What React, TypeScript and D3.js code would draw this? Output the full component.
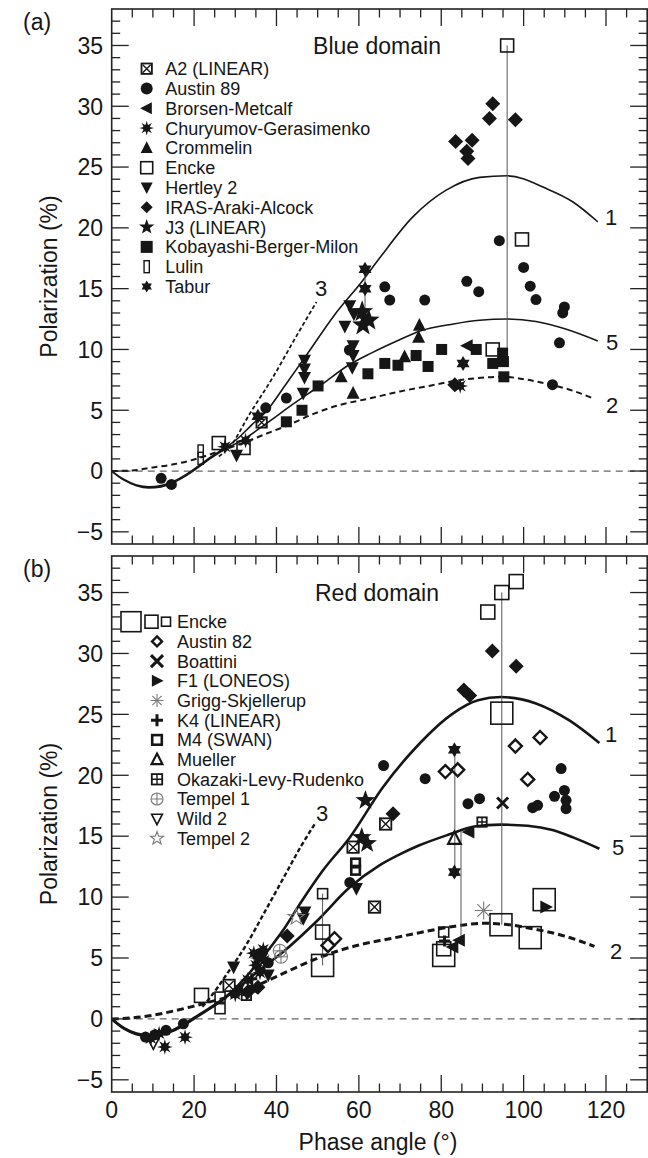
import React from 'react';
import * as d3 from 'd3';

// ---------- Blue domain observations (phase angle °, polarization %) ----------
const blueA2 = [[36.4, 4.0]];
const blueAustin89 = [[12, -0.6], [14.5, -1.1], [37.4, 5.2], [42.4, 6.0], [57.7, 9.95], [66.3, 15.15], [67.5, 14.06], [76, 14.06], [86.2, 15.6], [89.1, 14.75], [94.1, 18.95], [100, 16.75], [101.6, 15.2], [103, 14.1], [109.9, 13.5], [109.5, 13.0], [108.7, 10.55], [107, 7.1]];
const blueBrorsen = [[86.3, 10.3]];
const blueChuryumov = [[27.5, 2.0], [32.5, 2.5], [84.6, 7.0]];
const blueCrommelin = [[55.7, 7.75], [58.6, 6.4], [71.1, 9.4], [74.5, 11.0], [74.7, 12.0]];
const blueEncke = [[26, 2.3], [32, 1.9], [92.5, 10.0], [96, 35], [99.6, 19.05]];
const blueHertley = [[30.3, 1.3], [46.8, 9.1], [46.8, 8.4], [46.8, 7.7], [46.5, 6.4], [57.8, 13.6], [58.8, 12.9], [56.6, 11.9], [58.6, 10.3], [58.6, 9.5], [58.4, 8.5]];
const blueIras = [[92.5, 30.2], [91.7, 29.0], [98, 28.9], [83.5, 27.1], [87.5, 27.2], [86.2, 26.3], [86.5, 25.7], [83.3, 7.1]];
const blueJ3 = [[60.8, 13.1], [62.4, 12.4], [61.0, 12.0]];
const blueKobayashi = [[42.4, 4.05], [46.2, 5.0], [50.1, 7.0], [62.2, 8.0], [66.3, 8.85], [69.5, 8.7], [73.9, 9.5], [76.8, 8.6], [80.1, 10.0], [88.5, 10.0], [92.5, 8.85], [94.9, 9.7], [95.1, 9.0], [95.2, 7.75]];
const blueLulin = [[21.6, 1.65], [21.6, 1.05]];
const blueTabur = [[35.5, 4.5], [61.5, 16.6], [61.5, 15.0], [85.3, 8.85]];
const blueRanges = [[96, 9.8, 35], [61.5, 12.3, 16.6]];

// ---------- Red domain observations ----------
const redEnckeL = [[94.7, 25.1], [51.2, 4.39], [80.6, 5.21], [94.5, 7.73], [101.6, 6.67], [105, 9.79]];
const redEnckeM = [[91.3, 33.4], [94.7, 35.0], [98.2, 35.9], [51.2, 7.13], [21.8, 1.93], [80.6, 5.76]];
const redEnckeS = [[51.2, 10.28], [26.3, 1.79], [26.3, 0.84], [80.6, 7.13]];
const redAustin82 = [[98, 22.4], [104, 23.1], [101, 19.66], [81, 20.3], [84, 20.45], [54.1, 6.58], [52.5, 6.03]];
const redAustin89 = [[66, 20.8], [76.1, 19.72], [86.5, 17.67], [89.3, 18.08], [109.1, 20.55], [102.2, 17.34], [103.4, 17.53], [107.5, 18.27], [109.9, 18.76], [110.3, 17.94], [110.3, 17.26], [57.8, 11.2], [36.5, 5.4], [38, 4.6], [17.4, -0.4], [13.2, -0.94], [8.2, -1.49], [10.5, -1.3]];
const redIras = [[92.4, 30.2], [98.2, 28.95], [85.5, 27.0], [86.9, 26.55], [68.3, 16.85], [42.6, 6.8], [33, 2.2], [35.5, 2.6]];
const redBoattini = [[94.9, 17.72]];
const redF1 = [[105.4, 9.18]];
const redGrigg = [[90.3, 8.9]];
const redK4 = [[80.8, 6.4], [36, 4.1], [34, 3.3]];
const redM4 = [[59.2, 12.8], [59.2, 12.2]];
const redMueller = [[83.2, 14.8]];
const redOkazaki = [[89.9, 16.16], [32.7, 1.93]];
const redTempel1 = [[40.8, 5.6], [41.1, 5.1]];
const redWild2 = [[10.1, -2.0]];
const redTempel2 = [[44.8, 8.36]];
const redTabur = [[83.2, 22.1], [83.2, 12.05]];
const redJ3 = [[61.6, 17.94], [60.7, 14.9], [62, 14.4]];
const redA2 = [[66.5, 16.0], [58.6, 14.1], [63.8, 9.18], [28.5, 2.75]];
const redHertley = [[59.4, 10.7], [46.9, 8.77], [46.5, 8.23], [29.6, 4.25], [38, 3.6]];
const redBrorsen = [[86.7, 15.34], [84.4, 6.45], [82.8, 5.9]];
const redChuryumov = [[34.5, 5.4], [35.5, 5.0], [36.8, 5.7], [35, 4.4], [37, 4.8], [36, 3.8], [33, 3.2], [34, 2.5], [31, 2.4], [30, 2.0], [12.9, -2.3], [17.8, -1.5], [9.5, -1.6], [11.5, -1.2]];
const redRanges = [[94.7, 7.73, 35.0], [83.3, 12.05, 22.1], [84.8, 6.45, 15.4], [51.2, 4.39, 10.28]];

// ---------- Model curves ----------
const blueCurve1 = [[0, 0], [3, -0.7], [6, -1.15], [9, -1.3], [12, -1.2], [15, -0.85], [18, -0.3], [21, 0.4], [24, 1.15], [28, 2.0], [31, 2.8], [34, 3.8], [37.5, 4.9], [42, 7.0], [47.3, 9.54], [54, 12.8], [61, 15.7], [65, 17.5], [73.1, 20.9], [81.2, 23.1], [89.3, 24.15], [96.1, 24.28], [105.4, 23.25], [111.9, 22.15], [118, 20.5]];
const blueCurve5 = [[0, 0], [3, -0.75], [6, -1.2], [9, -1.38], [12, -1.3], [15, -0.95], [18, -0.4], [21, 0.3], [24, 1.05], [28, 1.9], [31, 2.4], [37.5, 3.9], [44, 5.5], [51.3, 7.2], [57, 8.6], [63, 9.7], [69.9, 10.8], [74.7, 11.5], [83, 12.1], [89.3, 12.4], [96, 12.5], [103, 12.3], [110, 11.7], [118, 10.7]];
const blueCurve2 = [[0, 0], [5, 0.05], [10, 0.3], [15, 0.55], [20, 0.95], [25, 1.5], [31, 2.2], [37, 3.0], [43, 3.8], [49, 4.7], [55, 5.4], [63, 6.0], [70, 6.55], [77, 7.0], [83, 7.4], [89, 7.65], [95, 7.75], [101, 7.5], [107, 7.07], [112, 6.6], [116.7, 6.0]];
const blueCurve3 = [[26, 1.2], [28.7, 2.0], [33.5, 4.7], [39.2, 7.75], [44.5, 10.9], [49.7, 13.9]];
const redCurve1 = [[0, 0], [3, -0.75], [6, -1.2], [9, -1.35], [12, -1.25], [15, -0.9], [18, -0.35], [21, 0.3], [25, 1.15], [29, 2.2], [33, 3.6], [36, 4.8], [39.2, 6.17], [41.6, 7.27], [46, 9.6], [51.3, 12.2], [57.8, 14.9], [65.8, 19.0], [73.9, 22.3], [82.8, 25.06], [88.9, 26.15], [94.5, 26.42], [103, 25.9], [111.1, 24.5], [118.4, 22.65]];
const redCurve5 = [[0, 0], [3, -0.8], [6, -1.25], [9, -1.4], [12, -1.3], [15, -0.95], [18, -0.4], [21, 0.25], [25, 1.1], [29, 2.1], [33, 3.2], [37, 4.3], [41.6, 5.5], [49.7, 8.0], [57.8, 10.8], [65, 12.6], [69.9, 13.5], [74.7, 14.25], [82, 15.15], [88, 15.8], [94.5, 15.95], [101, 15.85], [107, 15.5], [112, 14.9], [118.4, 13.97]];
const redCurve2 = [[0, 0], [6.9, 0.15], [13, 0.5], [19, 0.97], [25, 1.5], [31.1, 2.07], [37, 3.0], [43.2, 3.98], [49, 4.85], [55.3, 5.62], [61, 6.15], [67.5, 6.58], [75, 7.1], [82, 7.54], [90, 7.85], [96, 7.75], [102.2, 7.4], [110, 6.8], [117.2, 5.95]];
const redCurve3 = [[22, 1.0], [24, 1.8], [28, 3.7], [32.7, 6.1], [37.5, 9.0], [42.4, 12.0], [46, 14.2], [49.3, 16.0]];

const xTickLabels = [0, 20, 40, 60, 80, 100, 120];
const yTickLabels = [-5, 0, 5, 10, 15, 20, 25, 30, 35];

const FONT = '"Liberation Sans", Arial, Helvetica, sans-serif';
const INK = '#161616';
const GREY = '#7a7a7a';

const X_LEFT = 111.7;
const X_RIGHT = 647.2;

function starPath(n: number, ro: number, ri: number, rot = -Math.PI / 2) {
  const pts: string[] = [];
  for (let i = 0; i < n * 2; i++) {
    const r = i % 2 === 0 ? ro : ri;
    const a = rot + (i * Math.PI) / n;
    pts.push(`${(r * Math.cos(a)).toFixed(2)},${(r * Math.sin(a)).toFixed(2)}`);
  }
  return 'M' + pts.join('L') + 'Z';
}

function Marker({ shape, x, y, s }: { shape: string; x: number; y: number; s: number }) {
  const h = s / 2;
  const t = `translate(${x},${y})`;
  switch (shape) {
    case 'circle':
      return <circle cx={x} cy={y} r={h} fill={INK} />;
    case 'square':
      return <rect x={x - h} y={y - h} width={s} height={s} fill={INK} />;
    case 'openSquare':
      return <rect x={x - h} y={y - h} width={s} height={s} fill="white" fillOpacity={0} stroke={INK} strokeWidth={1.6} />;
    case 'thickSquare':
      return <rect x={x - h + 1.2} y={y - h + 1.2} width={s - 2.4} height={s - 2.4} fill="none" stroke={INK} strokeWidth={2.6} />;
    case 'lulin':
      return <rect x={x - s * 0.22} y={y - h} width={s * 0.44} height={s} fill="none" stroke={INK} strokeWidth={1.4} />;
    case 'diamond':
      return <path transform={t} d={`M0,${-h}L${h},0L0,${h}L${-h},0Z`} fill={INK} />;
    case 'openDiamond':
      return <path transform={t} d={`M0,${-h + 1}L${h - 1},0L0,${h - 1}L${-h + 1},0Z`} fill="none" stroke={INK} strokeWidth={2.4} />;
    case 'triUp':
      return <path transform={t} d={`M0,${-h * 1.1}L${h},${h * 0.85}L${-h},${h * 0.85}Z`} fill={INK} />;
    case 'openTriUp':
      return <path transform={t} d={`M0,${-h * 1.0}L${h * 0.9},${h * 0.75}L${-h * 0.9},${h * 0.75}Z`} fill="none" stroke={INK} strokeWidth={2.2} />;
    case 'triDown':
      return <path transform={t} d={`M0,${h * 1.1}L${h},${-h * 0.85}L${-h},${-h * 0.85}Z`} fill={INK} />;
    case 'openTriDown':
      return <path transform={t} d={`M0,${h * 1.0}L${h * 0.9},${-h * 0.75}L${-h * 0.9},${-h * 0.75}Z`} fill="none" stroke={INK} strokeWidth={1.6} />;
    case 'triLeft':
      return <path transform={t} d={`M${-h * 1.1},0L${h * 0.85},${-h}L${h * 0.85},${h}Z`} fill={INK} />;
    case 'triRight':
      return <path transform={t} d={`M${h * 1.1},0L${-h * 0.85},${-h}L${-h * 0.85},${h}Z`} fill={INK} />;
    case 'star5':
      return <path transform={t} d={starPath(5, h * 1.15, h * 0.47)} fill={INK} />;
    case 'openStar':
      return <path transform={t} d={starPath(5, h * 1.15, h * 0.47)} fill="none" stroke={GREY} strokeWidth={1.1} />;
    case 'hexagram':
      return <path transform={t} d={starPath(6, h, h * 0.58)} fill={INK} />;
    case 'burst':
      return (
        <g transform={t}>
          <path d={starPath(8, h * 1.05, h * 0.45, -Math.PI / 2)} fill={INK} />
          <circle r={h * 0.5} fill={INK} />
        </g>
      );
    case 'asterisk':
      return (
        <g transform={t} stroke={GREY} strokeWidth={1.1}>
          {[0, 45, 90, 135].map((a) => (
            <line key={a} x1={-h * Math.cos((a * Math.PI) / 180)} y1={-h * Math.sin((a * Math.PI) / 180)} x2={h * Math.cos((a * Math.PI) / 180)} y2={h * Math.sin((a * Math.PI) / 180)} />
          ))}
        </g>
      );
    case 'boxX':
      return (
        <g transform={t} stroke={INK} fill="none">
          <rect x={-h + 0.8} y={-h + 0.8} width={s - 1.6} height={s - 1.6} strokeWidth={1.8} />
          <path d={`M${-h + 2},${-h + 2}L${h - 2},${h - 2}M${h - 2},${-h + 2}L${-h + 2},${h - 2}`} strokeWidth={1.4} />
        </g>
      );
    case 'boxPlus':
      return (
        <g transform={t} stroke={INK} fill="none">
          <rect x={-h + 0.8} y={-h + 0.8} width={s - 1.6} height={s - 1.6} strokeWidth={1.8} />
          <path d={`M0,${-h + 1}L0,${h - 1}M${-h + 1},0L${h - 1},0`} strokeWidth={1.4} />
        </g>
      );
    case 'cross':
      return <path transform={t} d={`M${-h},${-h}L${h},${h}M${h},${-h}L${-h},${h}`} stroke={INK} strokeWidth={3} />;
    case 'plus':
      return <path transform={t} d={`M0,${-h}L0,${h}M${-h},0L${h},0`} stroke={INK} strokeWidth={3} />;
    case 'circlePlus':
      return (
        <g transform={t} stroke={GREY} fill="none" strokeWidth={1.1}>
          <circle r={h} />
          <path d={`M0,${-h}L0,${h}M${-h},0L${h},0`} />
        </g>
      );
    default:
      return null;
  }
}

type Series = { shape: string; pts: number[][]; s: number };

const blueSeries: Series[] = [
  { shape: 'lulin', pts: blueLulin, s: 12 },
  { shape: 'openSquare', pts: blueEncke, s: 13 },
  { shape: 'boxX', pts: blueA2, s: 12 },
  { shape: 'square', pts: blueKobayashi, s: 11 },
  { shape: 'triUp', pts: blueCrommelin, s: 13 },
  { shape: 'triDown', pts: blueHertley, s: 13 },
  { shape: 'circle', pts: blueAustin89, s: 11 },
  { shape: 'diamond', pts: blueIras, s: 15 },
  { shape: 'triLeft', pts: blueBrorsen, s: 13 },
  { shape: 'burst', pts: blueChuryumov, s: 15 },
  { shape: 'star5', pts: blueJ3, s: 20 },
  { shape: 'hexagram', pts: blueTabur, s: 15 },
];

const redSeries: Series[] = [
  { shape: 'openSquare', pts: redEnckeL, s: 22 },
  { shape: 'openSquare', pts: redEnckeM, s: 14 },
  { shape: 'openSquare', pts: redEnckeS, s: 10 },
  { shape: 'boxX', pts: redA2, s: 13 },
  { shape: 'boxPlus', pts: redOkazaki, s: 11 },
  { shape: 'thickSquare', pts: redM4, s: 11 },
  { shape: 'openDiamond', pts: redAustin82, s: 15 },
  { shape: 'circle', pts: redAustin89, s: 11 },
  { shape: 'diamond', pts: redIras, s: 15 },
  { shape: 'triDown', pts: redHertley, s: 13 },
  { shape: 'openTriUp', pts: redMueller, s: 14 },
  { shape: 'openTriDown', pts: redWild2, s: 12 },
  { shape: 'triLeft', pts: redBrorsen, s: 13 },
  { shape: 'triRight', pts: redF1, s: 13 },
  { shape: 'cross', pts: redBoattini, s: 11 },
  { shape: 'plus', pts: redK4, s: 11 },
  { shape: 'burst', pts: redChuryumov, s: 15 },
  { shape: 'star5', pts: redJ3, s: 18 },
  { shape: 'hexagram', pts: redTabur, s: 15 },
  { shape: 'asterisk', pts: redGrigg, s: 18 },
  { shape: 'circlePlus', pts: redTempel1, s: 13 },
  { shape: 'openStar', pts: redTempel2, s: 15 },
];

const blueLegend: [string, string][] = [
  ['boxX', 'A2 (LINEAR)'],
  ['circle', 'Austin 89'],
  ['triLeft', 'Brorsen-Metcalf'],
  ['burst', 'Churyumov-Gerasimenko'],
  ['triUp', 'Crommelin'],
  ['openSquare', 'Encke'],
  ['triDown', 'Hertley 2'],
  ['diamond', 'IRAS-Araki-Alcock'],
  ['star5', 'J3 (LINEAR)'],
  ['square', 'Kobayashi-Berger-Milon'],
  ['lulin', 'Lulin'],
  ['hexagram', 'Tabur'],
];

const redLegend: [string, string][] = [
  ['openSquare', 'Encke'],
  ['openDiamond', 'Austin 82'],
  ['cross', 'Boattini'],
  ['triRight', 'F1 (LONEOS)'],
  ['asterisk', 'Grigg-Skjellerup'],
  ['plus', 'K4 (LINEAR)'],
  ['thickSquare', 'M4 (SWAN)'],
  ['openTriUp', 'Mueller'],
  ['boxPlus', 'Okazaki-Levy-Rudenko'],
  ['circlePlus', 'Tempel 1'],
  ['openTriDown', 'Wild 2'],
  ['openStar', 'Tempel 2'],
];

type PanelProps = {
  top: number;
  bottom: number;
  tag: string;
  title: string;
  series: Series[];
  ranges: number[][];
  curves: { pts: number[][]; dash?: string; w: number }[];
  labels: { t: string; x: number; y: number }[];
  legend: [string, string][];
  legendTop: number;
  legendStep: number;
  legendSymX: number;
  legendTextX: number;
  showXLabels: boolean;
  bigEncke?: boolean;
};

function Panel(p: PanelProps) {
  const x = d3.scaleLinear().domain([0, 130]).range([X_LEFT, X_RIGHT]);
  const y = d3.scaleLinear().domain([-6, 38]).range([p.bottom, p.top]);
  const line = d3
    .line<number[]>()
    .x((d) => x(d[0]))
    .y((d) => y(d[1]))
    .curve(d3.curveMonotoneX);

  const xTicks = d3.range(5, 130, 5);
  const yTicks = d3.range(-5, 38, 1);

  return (
    <g>
      {/* zero line */}
      <line x1={x(0)} x2={X_RIGHT} y1={y(0)} y2={y(0)} stroke="#666" strokeWidth={1.3} strokeDasharray="7,5" />

      {/* model curves */}
      {p.curves.map((c, i) => (
        <path key={i} d={line(c.pts) || ''} fill="none" stroke={INK} strokeWidth={c.w} strokeDasharray={c.dash} />
      ))}

      {/* measurement ranges */}
      {p.ranges.map((r, i) => (
        <line key={i} x1={x(r[0])} x2={x(r[0])} y1={y(r[1])} y2={y(r[2])} stroke="#555" strokeWidth={1} />
      ))}

      {/* observations */}
      {p.series.map((se, i) => (
        <g key={i}>
          {se.pts.map((d, j) => (
            <Marker key={j} shape={se.shape} x={x(d[0])} y={y(d[1])} s={se.s} />
          ))}
        </g>
      ))}

      {/* curve labels */}
      {p.labels.map((l, i) => (
        <text key={i} x={l.x} y={l.y} dy="0.36em" textAnchor="middle" fontSize={22} fontFamily={FONT} fill={INK}>
          {l.t}
        </text>
      ))}

      {/* frame and ticks */}
      <rect x={X_LEFT} y={p.top} width={X_RIGHT - X_LEFT} height={p.bottom - p.top} fill="none" stroke="#222" strokeWidth={1.6} />
      {xTicks.map((v) => {
        const len = v % 20 === 0 ? 17 : 8.5;
        return (
          <g key={'x' + v} stroke="#222" strokeWidth={1.3}>
            <line x1={x(v)} x2={x(v)} y1={p.bottom} y2={p.bottom - len} />
            <line x1={x(v)} x2={x(v)} y1={p.top} y2={p.top + len} />
          </g>
        );
      })}
      {yTicks.map((v) => {
        const len = v % 5 === 0 ? 17 : 8.5;
        return (
          <g key={'y' + v} stroke="#222" strokeWidth={1.3}>
            <line x1={X_LEFT} x2={X_LEFT + len} y1={y(v)} y2={y(v)} />
            <line x1={X_RIGHT} x2={X_RIGHT - len} y1={y(v)} y2={y(v)} />
          </g>
        );
      })}
      {yTickLabels.map((v) => (
        <text key={'yl' + v} x={103} y={y(v)} dy="0.36em" textAnchor="end" fontSize={23} fontFamily={FONT} fill={INK}>
          {v < 0 ? '\u2212' + Math.abs(v) : v}
        </text>
      ))}
      {p.showXLabels &&
        xTickLabels.map((v) => (
          <text key={'xl' + v} x={x(v)} y={p.bottom + 26} textAnchor="middle" fontSize={23} fontFamily={FONT} fill={INK}>
            {v}
          </text>
        ))}

      {/* panel tag and y title */}
      <text x={23} y={p.top + 21} fontSize={23} fontFamily={FONT} fill={INK}>
        {p.tag}
      </text>
      <text
        transform={`translate(57,${(p.top + p.bottom) / 2}) rotate(-90)`}
        textAnchor="middle"
        fontSize={23}
        fontFamily={FONT}
        fill={INK}
      >
        Polarization (%)
      </text>
      <text x={377} y={p.top + 37} dy="0.36em" textAnchor="middle" fontSize={23} fontFamily={FONT} fill={INK}>
        {p.title}
      </text>

      {/* legend */}
      {p.legend.map((it, i) => {
        const cy = p.legendTop + i * p.legendStep;
        return (
          <g key={'lg' + i}>
            {p.bigEncke && i === 0 ? (
              <g>
                <Marker shape="openSquare" x={131} y={cy} s={20} />
                <Marker shape="openSquare" x={151.5} y={cy} s={13} />
                <Marker shape="openSquare" x={166} y={cy} s={9} />
              </g>
            ) : (
              <Marker shape={it[0]} x={p.legendSymX} y={cy} s={it[0] === 'asterisk' ? 13 : it[0] === 'star5' ? 14 : it[0] === 'burst' ? 14 : 12} />
            )}
            <text x={p.legendTextX} y={cy} dy="0.36em" fontSize={18} fontFamily={FONT} fill={INK}>
              {it[1]}
            </text>
          </g>
        );
      })}
    </g>
  );
}

export default function App() {
  return (
    <div style={{ position: 'absolute', left: 0, top: 0 }}>
      <svg width={648} height={1158} viewBox="0 0 648 1158" style={{ display: 'block', background: 'white' }}>
        <Panel
          top={9}
          bottom={544}
          tag="(a)"
          title="Blue domain"
          series={blueSeries}
          ranges={blueRanges}
          curves={[
            { pts: blueCurve1, w: 1.6 },
            { pts: blueCurve5, w: 1.6 },
            { pts: blueCurve2, w: 2, dash: '6,4' },
            { pts: blueCurve3, w: 1.8, dash: '4,2.5' },
          ]}
          labels={[
            { t: '1', x: 611, y: 217 },
            { t: '5', x: 612, y: 342 },
            { t: '2', x: 612, y: 405 },
            { t: '3', x: 321, y: 288 },
          ]}
          legend={blueLegend}
          legendTop={68.7}
          legendStep={19.8}
          legendSymX={146.7}
          legendTextX={165.3}
          showXLabels={false}
        />
        <Panel
          top={556}
          bottom={1092}
          tag="(b)"
          title="Red domain"
          series={redSeries}
          ranges={redRanges}
          curves={[
            { pts: redCurve1, w: 2.6 },
            { pts: redCurve5, w: 2.6 },
            { pts: redCurve2, w: 3, dash: '7,4' },
            { pts: redCurve3, w: 2.4, dash: '4.5,2.5' },
          ]}
          labels={[
            { t: '1', x: 611, y: 734 },
            { t: '5', x: 618, y: 847 },
            { t: '2', x: 616, y: 951 },
            { t: '3', x: 322, y: 813 },
          ]}
          legend={redLegend}
          legendTop={621.7}
          legendStep={19.7}
          legendSymX={157}
          legendTextX={177}
          showXLabels={true}
          bigEncke={true}
        />
        <text x={378} y={1150} textAnchor="middle" fontSize={23} fontFamily={FONT} fill={INK}>
          Phase angle (°)
        </text>
      </svg>
    </div>
  );
}
